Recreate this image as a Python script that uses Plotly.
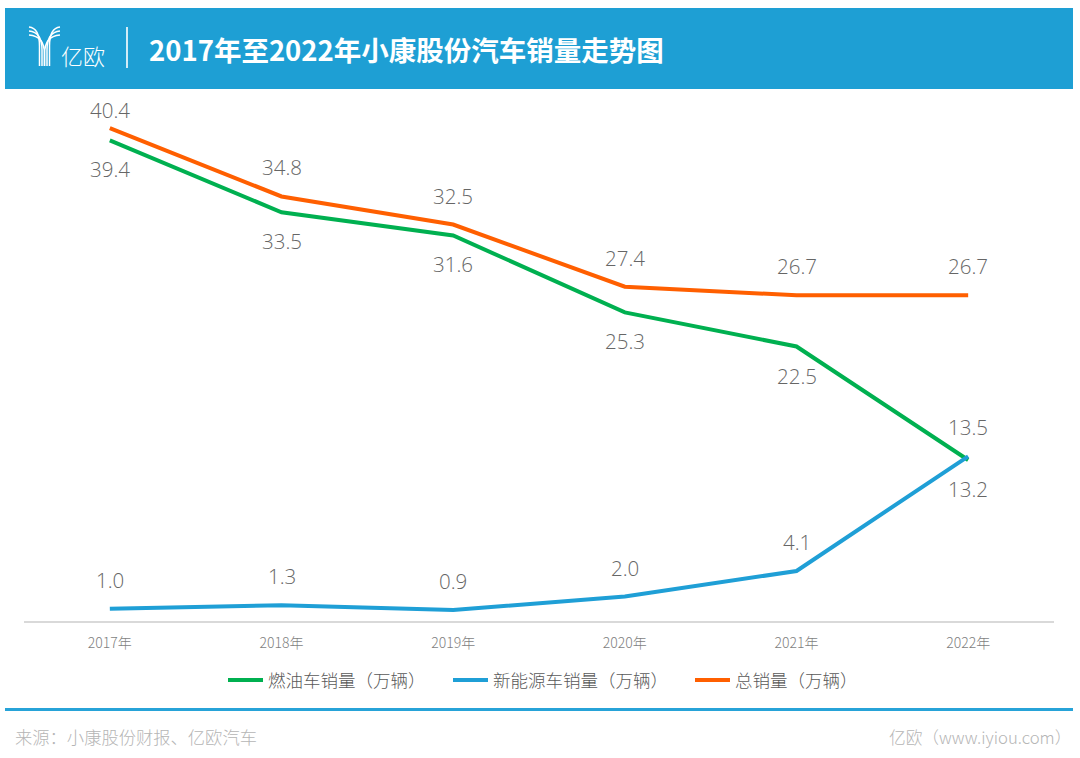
import plotly.graph_objects as go

years = ["2017年", "2018年", "2019年", "2020年", "2021年", "2022年"]
fuel = [39.4, 33.5, 31.6, 25.3, 22.5, 13.2]
nev = [1.0, 1.3, 0.9, 2.0, 4.1, 13.5]
total = [40.4, 34.8, 32.5, 27.4, 26.7, 26.7]
names = ["燃油车销量（万辆）", "新能源车销量（万辆）", "总销量（万辆）"]
title = "2017年至2022年小康股份汽车销量走势图"
source = "来源：小康股份财报、亿欧汽车"
brand = "亿欧（www.iyiou.com）"

W, H = 1080, 758
L, R, T, B = 24, 1054, 90, 621
FONT = "Open Sans, Noto Sans CJK SC, sans-serif"
CJK = "Noto Sans CJK SC, sans-serif"

def px(x): return (x - L) / (R - L)
def py(y): return (B - y) / (B - T)

fig = go.Figure()
series = [(names[0], fuel, "#00b050", -29, "legend"), (names[1], nev, "#1f9fd6", 29, "legend2"),
          (names[2], total, "#ff5f00", 29, "legend3")]
for name, vals, color, shift, legend_id in series:
    fig.add_trace(go.Scatter(x=years, y=vals, mode="lines", name=name, legend=legend_id, showlegend=True,
                             line=dict(color=color, width=4)))
    for i, (yr, v) in enumerate(zip(years, vals)):
        s = 18 if (vals is total and i == 0) else shift
        fig.add_annotation(x=yr, y=v, text=f"{v:.1f}", showarrow=False, yshift=s,
                           yanchor="middle", font=dict(family=FONT, size=20.5, color="#666666", weight=300))

shapes = [
    dict(type="rect", x0=px(5), x1=px(1073), y0=py(8), y1=py(89), xref="paper", yref="paper",
         fillcolor="#1e9fd4", line_width=0, layer="above"),
    dict(type="line", x0=px(127), x1=px(127), y0=py(27), y1=py(68), xref="paper", yref="paper",
         line=dict(color="white", width=1.6), layer="above"),
    dict(type="line", x0=px(5), x1=px(1073), y0=py(709.5), y1=py(709.5), xref="paper", yref="paper",
         line=dict(color="#27a3d8", width=3), layer="above"),
]
# logo strokes
for k, top in enumerate([27, 31, 35]):
    for start, stem in [(29, 39.5 + k * 2.5), (60, 49.5 - k * 2.5)]:
        path = (f"M {px(start)},{py(top)} Q {px(stem)},{py(top + 1)} {px(stem)},{py(top + 19)} "
                f"L {px(stem)},{py(66)}")
        shapes.append(dict(type="path", path=path, xref="paper", yref="paper",
                           line=dict(color="white", width=1.5), layer="above"))
fig.update_layout(shapes=shapes)

def label(x, y, text, size, color, anchor="left", family=CJK, **kw):
    fig.add_annotation(x=px(x), y=py(y), xref="paper", yref="paper", text=text, showarrow=False,
                       xanchor=anchor, yanchor="middle", font=dict(family=family, size=size, color=color, **kw))

label(147, 49.5, f"<b>{title}</b>", 27.5, "white")
label(59, 54.5, "亿欧", 22, "white", weight=300)
label(13, 736, source, 17.3, "#b5b5b5", weight=300)
label(1073, 737, brand, 16.7, "#b5b5b5", anchor="right", weight=300)

fig.update_xaxes(type="category", range=[-0.5, 5.5], showgrid=False, ticks="", showline=True,
                 linecolor="#d9d9d9", linewidth=1.5,
                 tickfont=dict(family=CJK, size=14, color="#7f7f7f", weight=300), ticklabelstandoff=8, zeroline=False)
fig.update_yaxes(range=[0, (B - T) / 12.2], visible=False)

def lg(x):
    return dict(orientation="h", x=px(x), xanchor="left", y=py(680), yanchor="middle",
                font=dict(family=CJK, size=17.5, color="#595959", weight=300),
                itemwidth=35, bgcolor="rgba(0,0,0,0)")

fig.update_layout(width=W, height=H, margin=dict(l=L, r=W - R, t=T, b=H - B), showlegend=True,
                  paper_bgcolor="white", plot_bgcolor="white", font=dict(family=CJK),
                  legend=lg(223), legend2=lg(448), legend3=lg(690))
fig.write_html("out.html", config=dict(displayModeBar=False), post_script="document.body.style.margin='0';")
